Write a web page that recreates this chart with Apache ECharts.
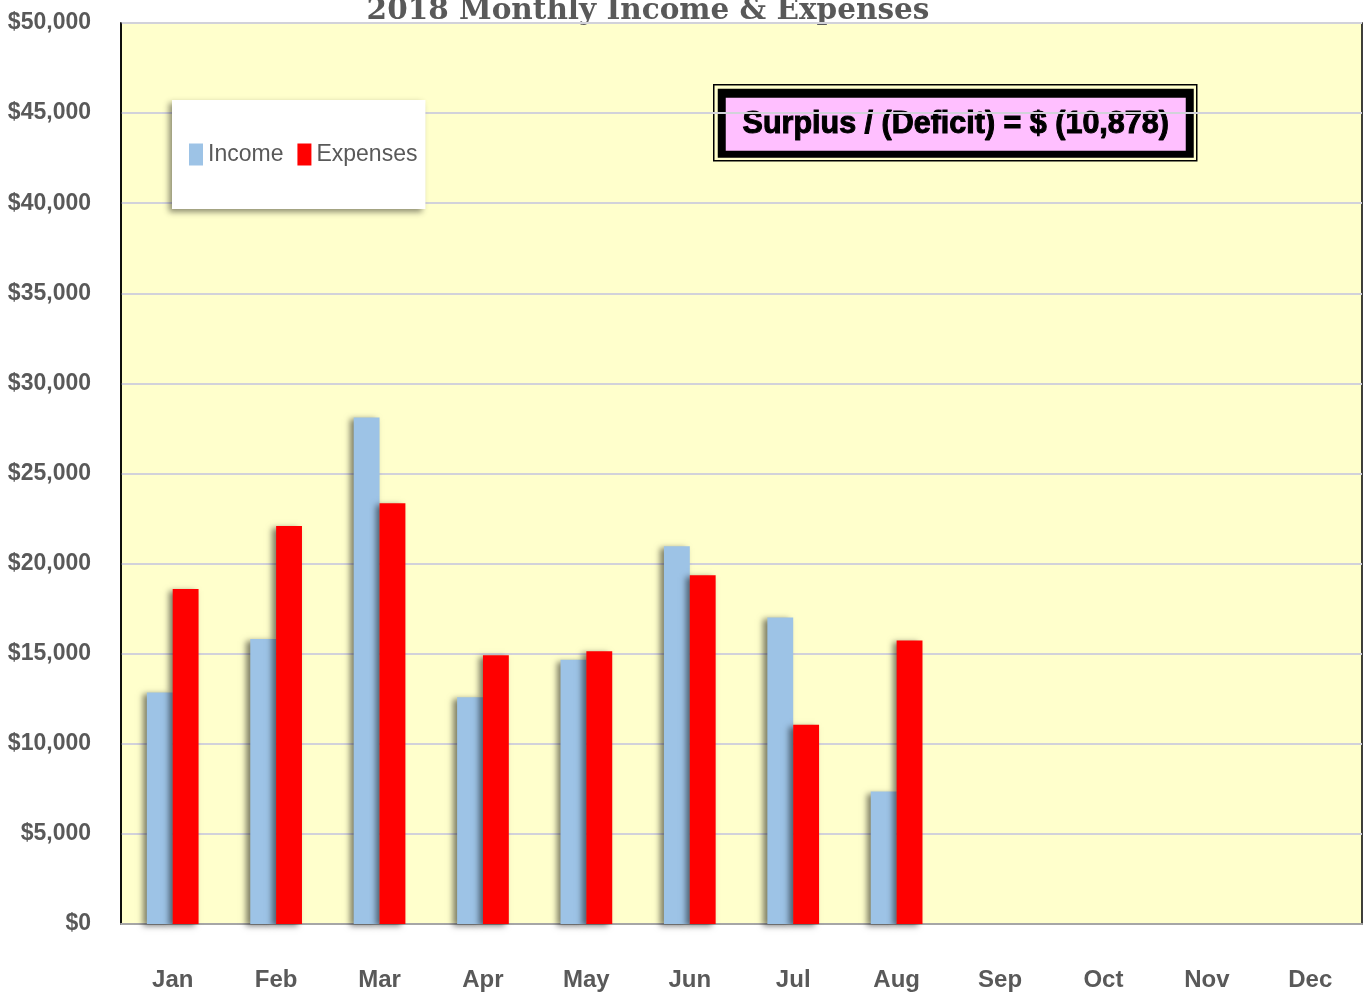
<!DOCTYPE html>
<html>
<head>
<meta charset="utf-8">
<script src="https://cdn.jsdelivr.net/npm/echarts@6/dist/echarts.min.js"></script>
<style>
html,body{margin:0;padding:0;background:#fff;}
#chart{width:1363px;height:996px;}
</style>
</head>
<body>
<div id="chart"></div>
<script>
const months = ['Jan','Feb','Mar','Apr','May','Jun','Jul','Aug','Sep','Oct','Nov','Dec'];
const income = [12850, 15820, 28110, 12580, 14670, 20960, 17010, 7350, null, null, null, null];
const expenses = [18590, 22090, 23350, 14910, 15140, 19350, 11060, 15738, null, null, null, null];
const titleText = '2018 Monthly Income & Expenses';
const seriesNames = ['Income', 'Expenses'];

const sum = a => a.reduce((s, v) => s + (v || 0), 0);
const net = sum(income) - sum(expenses);
const netStr = net < 0 ? '(' + Math.abs(net).toLocaleString('en-US') + ')' : net.toLocaleString('en-US');
const surplusText = 'Surplus / (Deficit) = $ ' + netStr;

const labelFont = "'Liberation Sans', Arial, sans-serif";
const gray = '#595959';

const chart = echarts.init(document.getElementById('chart'));
chart.setOption({
  animation: false,
  backgroundColor: '#ffffff',
  grid: {
    left: 121, right: 1, top: 23, bottom: 72,
    containLabel: false, outerBoundsMode: 'none',
    show: true, backgroundColor: '#FFFFCC', borderColor: '#000', borderWidth: 1.5
  },
  legend: {
    left: 172, top: 100,
    padding: [43, 8, 43, 17],
    backgroundColor: '#ffffff',
    shadowColor: 'rgba(0,0,0,0.45)', shadowBlur: 6, shadowOffsetX: -3, shadowOffsetY: 3,
    itemWidth: 14, itemHeight: 22, itemGap: 14,
    icon: 'rect',
    textStyle: { fontFamily: labelFont, fontSize: 23, color: gray },
    data: seriesNames
  },
  xAxis: {
    type: 'category',
    data: months,
    axisTick: { show: false },
    axisLine: { show: true, lineStyle: { color: '#A6A6A6', width: 2 } },
    axisLabel: { margin: 44, fontFamily: labelFont, fontWeight: 'bold', fontSize: 24, color: gray }
  },
  yAxis: {
    type: 'value', min: 0, max: 50000, interval: 5000,
    axisLine: { show: true, lineStyle: { color: '#000', width: 1.5 } },
    axisTick: { show: false },
    splitLine: { lineStyle: { color: '#D2D2DA', width: 2 } },
    axisLabel: {
      margin: 30, fontFamily: labelFont, fontWeight: 'bold', fontSize: 23, color: gray,
      formatter: v => '$' + v.toLocaleString('en-US')
    }
  },
  series: [
    {
      name: seriesNames[0], type: 'bar', data: income,
      barGap: '0%', barCategoryGap: '50%',
      itemStyle: { color: '#9DC3E6', shadowColor: 'rgba(0,0,0,0.5)', shadowBlur: 6, shadowOffsetX: -4, shadowOffsetY: 2 }
    },
    {
      name: seriesNames[1], type: 'bar', data: expenses,
      barGap: '0%', barCategoryGap: '50%',
      itemStyle: { color: '#FF0000', shadowColor: 'rgba(0,0,0,0.5)', shadowBlur: 6, shadowOffsetX: -4, shadowOffsetY: 2 }
    }
  ],
  graphic: [
    {
      type: 'text', x: 648, y: -4,
      style: { text: titleText, font: "bold 29.5px 'DejaVu Serif', serif", fill: gray, align: 'center', verticalAlign: 'top' }
    },
    {
      type: 'group', left: 713, top: 84,
      children: [
        { type: 'rect', shape: { x: 0, y: 0, width: 483, height: 76 }, style: { fill: '#FFFFCC', stroke: '#000', lineWidth: 1.5 } },
        { type: 'rect', shape: { x: 4, y: 4, width: 476, height: 69 }, style: { fill: '#000' } },
        { type: 'rect', shape: { x: 12, y: 13, width: 460, height: 53 }, style: { fill: '#FFBFFF' } },
        {
          type: 'text', x: 242, y: 40,
          style: {
            text: surplusText, font: "bold 30.5px 'Liberation Sans', Arial, sans-serif",
            fill: '#000', stroke: '#000', lineWidth: 1, align: 'center', verticalAlign: 'middle'
          }
        }
      ]
    }
  ]
});
</script>
</body>
</html>
